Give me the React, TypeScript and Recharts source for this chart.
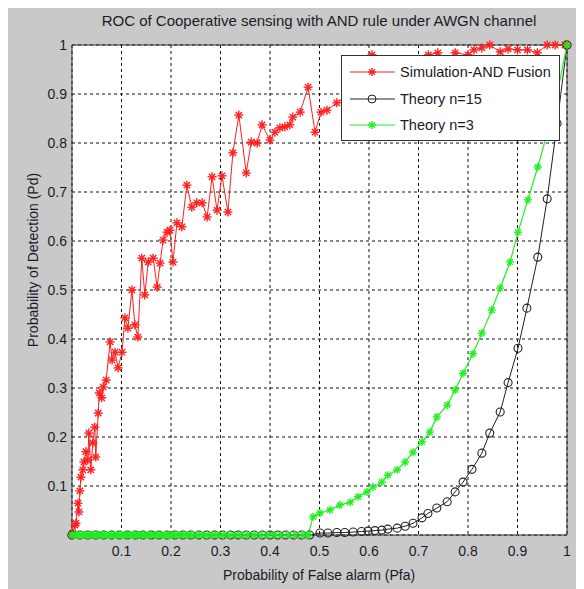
import React from "react";
import { CartesianGrid, Line, LineChart, ReferenceLine, XAxis, YAxis } from "recharts";

// Simulation-AND Fusion (red, '*' markers)
const simPfa = [
  0, 0.002, 0.006, 0.008, 0.012, 0.014, 0.016, 0.018, 0.022, 0.024, 0.028, 0.032, 0.034, 0.038,
  0.042, 0.046, 0.048, 0.053, 0.055, 0.06, 0.063, 0.069, 0.077, 0.081, 0.087, 0.093, 0.101, 0.107,
  0.113, 0.121, 0.127, 0.133, 0.141, 0.147, 0.154, 0.164, 0.172, 0.178, 0.184, 0.192, 0.198, 0.204,
  0.212, 0.222, 0.232, 0.242, 0.252, 0.263, 0.273, 0.283, 0.293, 0.303, 0.315, 0.325, 0.337, 0.352,
  0.362, 0.374, 0.384, 0.4, 0.41, 0.42, 0.43, 0.44, 0.446, 0.461, 0.477, 0.491, 0.503, 0.515, 0.535,
  0.56, 0.59, 0.606, 0.63, 0.66, 0.69, 0.72, 0.739, 0.757, 0.774, 0.8, 0.812, 0.828, 0.844, 0.865,
  0.881, 0.9, 0.92, 0.94, 0.96, 0.976, 0.996, 1,
];
const simPd = [
  0, 0.004, 0.02, 0.024, 0.065, 0.047, 0.09, 0.118, 0.133, 0.149, 0.17, 0.153, 0.208, 0.133,
  0.188, 0.22, 0.159, 0.249, 0.29, 0.28, 0.302, 0.316, 0.394, 0.357, 0.373, 0.341, 0.373, 0.443,
  0.422, 0.5, 0.429, 0.404, 0.565, 0.49, 0.557, 0.565, 0.506, 0.555, 0.602, 0.618, 0.622, 0.557,
  0.637, 0.629, 0.714, 0.669, 0.678, 0.678, 0.649, 0.731, 0.663, 0.733, 0.659, 0.78, 0.857, 0.739,
  0.802, 0.8, 0.837, 0.806, 0.822, 0.831, 0.833, 0.837, 0.853, 0.863, 0.914, 0.822, 0.863, 0.867, 0.882,
  0.9, 0.93, 0.98, 0.95, 0.97, 0.96, 0.98, 0.984, 0.97, 0.984, 0.98, 0.99, 0.994, 1.0, 0.986,
  0.992, 0.99, 0.99, 0.984, 1.0, 1.0, 1.0, 1,
];

// Theory n=15 (black, 'o' markers): flat part at Pd = 0, then the rising part
const th15FlatPfa = [
  0, 0.016, 0.032, 0.048, 0.064, 0.08, 0.096, 0.112, 0.128, 0.144, 0.16, 0.176, 0.192, 0.208, 0.224,
  0.24, 0.256, 0.272, 0.288, 0.304, 0.32, 0.336, 0.352, 0.368, 0.384, 0.4, 0.416, 0.432, 0.448, 0.464, 0.48,
];
const th15Pfa = [
  0.501, 0.517, 0.535, 0.551, 0.568, 0.585, 0.598, 0.612, 0.626, 0.638, 0.657, 0.673, 0.689, 0.707,
  0.719, 0.737, 0.758, 0.774, 0.79, 0.808, 0.828, 0.844, 0.865, 0.881, 0.901, 0.919, 0.941, 0.96, 0.98, 1,
];
const th15Pd = [
  0.004, 0.004, 0.005, 0.005, 0.006, 0.007, 0.008, 0.009, 0.01, 0.012, 0.014, 0.018, 0.024, 0.035,
  0.044, 0.055, 0.068, 0.088, 0.108, 0.134, 0.167, 0.208, 0.251, 0.311, 0.381, 0.463, 0.567, 0.686, 0.84, 1,
];

// Theory n=3 (green, '*' markers)
const th3FlatPfa = [
  0, 0.005, 0.01, 0.015, 0.02, 0.025, 0.03, 0.035, 0.04, 0.045, 0.05, 0.055, 0.06, 0.065, 0.07, 0.075,
  0.08, 0.085, 0.09, 0.095, 0.1, 0.106, 0.112, 0.118, 0.124, 0.13, 0.136, 0.142, 0.148, 0.154, 0.16,
  0.167, 0.174, 0.181, 0.188, 0.195, 0.202, 0.21, 0.218, 0.226, 0.234, 0.242, 0.252, 0.262, 0.272,
  0.283, 0.294, 0.305, 0.317, 0.329, 0.341, 0.354, 0.367, 0.38, 0.394, 0.408, 0.422, 0.437, 0.452, 0.467, 0.477,
];
const th3Pfa = [
  0.487, 0.501, 0.521, 0.541, 0.562, 0.578, 0.596, 0.608, 0.626, 0.638, 0.657, 0.673, 0.689, 0.707,
  0.723, 0.737, 0.758, 0.774, 0.79, 0.81, 0.828, 0.848, 0.865, 0.885, 0.901, 0.921, 0.941, 0.96, 0.98, 1,
];
const th3Pd = [
  0.037, 0.045, 0.051, 0.061, 0.067, 0.078, 0.088, 0.098, 0.108, 0.122, 0.133, 0.149, 0.169, 0.19,
  0.21, 0.241, 0.265, 0.296, 0.33, 0.37, 0.412, 0.459, 0.504, 0.557, 0.618, 0.684, 0.751, 0.82, 0.9, 1,
];

const ticks = [0, 0.1, 0.2, 0.3, 0.4, 0.5, 0.6, 0.7, 0.8, 0.9, 1];

const simData = simPfa.map((x, i) => ({ x, y: simPd[i] }));
const th15Data = [
  ...th15FlatPfa.map((x) => ({ x, y: 0 })),
  ...th15Pfa.map((x, i) => ({ x, y: th15Pd[i] })),
];
const th3Data = [
  ...th3FlatPfa.map((x) => ({ x, y: 0 })),
  ...th3Pfa.map((x, i) => ({ x, y: th3Pd[i] })),
];

const FONT = "'Liberation Sans', Arial, sans-serif";
const TEXT = "#1a1a28";
const RED = "#ff1e1e";
const GREEN = "#1ef01e";
const BLACK = "#222";

const star = (color: string, r: number) => (props: any) => {
  const { cx, cy, index } = props;
  if (cx == null || cy == null) return <g key={index} />;
  const d = r * 0.7;
  return (
    <g key={index} stroke={color} strokeWidth={1.4}>
      <line x1={cx - r} y1={cy} x2={cx + r} y2={cy} />
      <line x1={cx} y1={cy - r} x2={cx} y2={cy + r} />
      <line x1={cx - d} y1={cy - d} x2={cx + d} y2={cy + d} />
      <line x1={cx - d} y1={cy + d} x2={cx + d} y2={cy - d} />
    </g>
  );
};

const circle = (props: any) => {
  const { cx, cy, index } = props;
  if (cx == null || cy == null) return <g key={index} />;
  return <circle key={index} cx={cx} cy={cy} r={4} fill="none" stroke={BLACK} strokeWidth={1.1} />;
};

const legendItems = [
  { name: "Simulation-AND Fusion", color: RED, marker: "star" },
  { name: "Theory n=15", color: BLACK, marker: "circle" },
  { name: "Theory n=3", color: GREEN, marker: "star" },
];

function LegendBox() {
  return (
    <div
      style={{
        position: "absolute",
        left: 333,
        top: 47,
        width: 219,
        height: 86,
        background: "#fff",
        border: "1.5px solid #333",
        boxSizing: "border-box",
      }}
    >
      {legendItems.map((item, i) => (
        <div key={item.name} style={{ position: "absolute", left: 0, top: 5 + i * 26.5, height: 22, display: "flex", alignItems: "center" }}>
          <svg width={58} height={22}>
            <line x1={8} y1={11} x2={53} y2={11} stroke={item.color} strokeWidth={1.2} />
            {item.marker === "circle"
              ? <circle cx={30} cy={11} r={4} fill="none" stroke={item.color} />
              : star(item.color, 4)({ cx: 30, cy: 11, index: i })}
          </svg>
          <span style={{ fontFamily: FONT, fontSize: 14.5, color: TEXT, whiteSpace: "nowrap" }}>{item.name}</span>
        </div>
      ))}
    </div>
  );
}

export default function App() {
  return (
    <div style={{ position: "relative", width: 576, height: 581, background: "#c9c9c9" }}>
      <div
        style={{
          position: "absolute",
          left: 311,
          top: 4,
          transform: "translateX(-50%)",
          fontFamily: FONT,
          fontSize: 15,
          color: TEXT,
          whiteSpace: "nowrap",
        }}
      >
        ROC of Cooperative sensing with AND rule under AWGN channel
      </div>
      <LineChart width={576} height={581} margin={{ top: 37, right: 17, left: 0, bottom: 0 }}>
        <CartesianGrid stroke="#111" strokeDasharray="3 3" fill="#fff" fillOpacity={1} />
        <XAxis
          dataKey="x"
          type="number"
          domain={[0, 1]}
          ticks={ticks}
          height={54}
          tickLine={false}
          tickSize={0}
          tickMargin={11}
          axisLine={{ stroke: "#333" }}
          tick={{ fill: TEXT, fontSize: 14, fontFamily: FONT }}
          tickFormatter={(v: number) => (v === 0 ? "" : String(v))}
        />
        <YAxis
          dataKey="y"
          type="number"
          domain={[0, 1]}
          ticks={ticks}
          width={64}
          tickLine={false}
          tickSize={0}
          tickMargin={5}
          axisLine={{ stroke: "#333" }}
          tick={{ fill: TEXT, fontSize: 14, fontFamily: FONT }}
          tickFormatter={(v: number) => (v === 0 ? "" : String(v))}
        />
        <ReferenceLine y={1} stroke="#333" />
        <ReferenceLine x={1} stroke="#333" />
        <Line
          data={simData}
          dataKey="y"
          type="linear"
          stroke={RED}
          strokeWidth={1}
          dot={star(RED, 4.5)}
          activeDot={false}
          isAnimationActive={false}
        />
        <Line
          data={th15Data}
          dataKey="y"
          type="linear"
          stroke={BLACK}
          strokeWidth={1}
          dot={circle}
          activeDot={false}
          isAnimationActive={false}
        />
        <Line
          data={th3Data}
          dataKey="y"
          type="linear"
          stroke={GREEN}
          strokeWidth={1.2}
          dot={star(GREEN, 4)}
          activeDot={false}
          isAnimationActive={false}
        />
      </LineChart>
      <LegendBox />
      <div
        style={{
          position: "absolute",
          left: 311,
          top: 559,
          transform: "translateX(-50%)",
          fontFamily: FONT,
          fontSize: 14,
          color: TEXT,
          whiteSpace: "nowrap",
        }}
      >
        Probability of False alarm (Pfa)
      </div>
      <div
        style={{
          position: "absolute",
          left: 25,
          top: 252,
          transform: "translate(-50%, -50%) rotate(-90deg)",
          fontFamily: FONT,
          fontSize: 14,
          color: TEXT,
          whiteSpace: "nowrap",
        }}
      >
        Probability of Detection (Pd)
      </div>
    </div>
  );
}
